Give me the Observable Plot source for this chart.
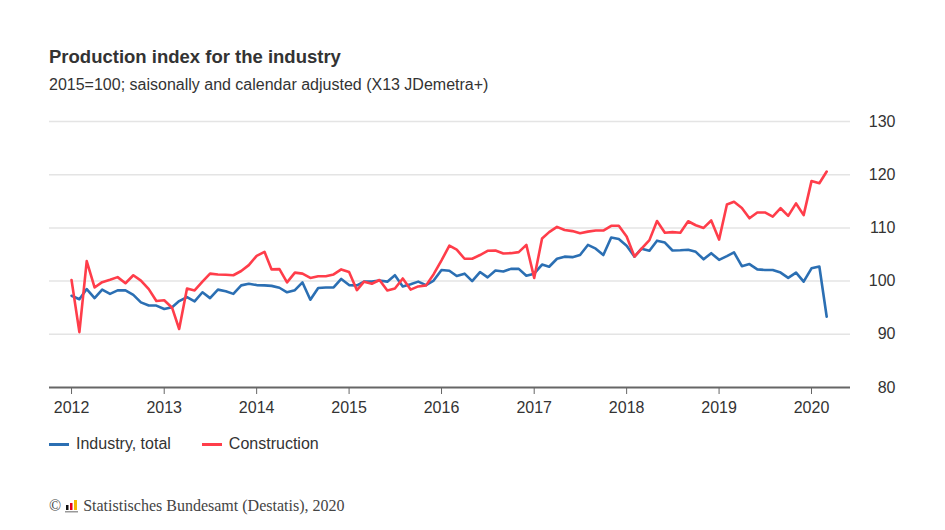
<!DOCTYPE html>
<html>
<head>
<meta charset="utf-8">
<script src="https://cdn.jsdelivr.net/npm/d3@7"></script>
<script src="https://cdn.jsdelivr.net/npm/@observablehq/plot@0.6"></script>
<style>
  html, body { margin: 0; padding: 0; background: #fff; }
  body { width: 945px; height: 530px; position: relative; overflow: hidden; font-family: "Liberation Sans", Arial, sans-serif; color: #333; }
  #title { position: absolute; left: 49px; top: 46px; font-size: 18.5px; font-weight: bold; color: #333; white-space: nowrap; }
  #subtitle { position: absolute; left: 49px; top: 76px; font-size: 16px; color: #333; white-space: nowrap; }
  #chart { position: absolute; left: 0; top: 100px; }
  #legend { position: absolute; left: 49px; top: 435px; font-size: 16px; color: #333; display: flex; white-space: nowrap; }
  .item { display: flex; align-items: center; margin-right: 31px; }
  .sw { width: 20px; height: 3px; margin-right: 7px; }
  #caption { position: absolute; left: 49px; top: 497px; font-family: "Liberation Serif", "Times New Roman", serif; font-size: 16px; color: #444; display: flex; align-items: center; white-space: nowrap; }
</style>
</head>
<body>
<div id="title">Production index for the industry</div>
<div id="subtitle">2015=100; saisonally and calendar adjusted (X13 JDemetra+)</div>
<div id="chart"></div>
<div id="legend"></div>
<div id="caption"><span>©</span><svg width="16" height="14" style="margin:0 3px 0 3px"><rect x="2" y="6" width="2.5" height="5" fill="#111"/><rect x="6" y="4" width="2.5" height="7" fill="#e3001b"/><rect x="10" y="1" width="3" height="10" fill="#f5b800"/><rect x="1" y="12" width="13" height="1.5" fill="#999"/></svg><span>Statistisches Bundesamt (Destatis), 2020</span></div>
<script>
const startYear = 2012;
const seriesNames = ["Industry, total", "Construction"];
const seriesColors = ["#2b6fb3", "#ff3d4a"];
const yTicks = [80, 90, 100, 110, 120, 130];
const xTickYears = [2012, 2013, 2014, 2015, 2016, 2017, 2018, 2019, 2020];

const industry = [
  97.25, 96.6, 98.5, 96.8, 98.4, 97.6, 98.25, 98.25, 97.4, 96.0, 95.4, 95.4,
  94.75, 95.1, 96.25, 97.0, 96.2, 97.9, 96.8, 98.4, 98.1, 97.6, 99.2, 99.5,
  99.25, 99.2, 99.1, 98.75, 97.9, 98.3, 99.75, 96.5, 98.7, 98.8, 98.8, 100.4,
  99.25, 99.2, 99.9, 99.9, 100.1, 99.9, 101.1, 99.0, 99.4, 99.9, 99.25, 100.1,
  102.1, 101.95, 100.95, 101.4, 100.0, 101.7, 100.7, 102.0, 101.8, 102.3, 102.3, 101.0,
  101.4, 103.1, 102.7, 104.2, 104.6, 104.5, 104.9, 106.8, 106.1, 104.9, 108.2, 107.9,
  106.65, 104.6, 106.1, 105.7, 107.6, 107.25, 105.75, 105.8, 105.9, 105.5, 104.1, 105.25,
  104.0, 104.7, 105.4, 102.8, 103.2, 102.2, 102.1, 102.1, 101.6, 100.6, 101.6, 99.9,
  102.4, 102.75, 93.3
];
const construction = [
  100.2, 90.4, 103.75, 98.8, 99.8, 100.25, 100.75, 99.6, 101.1, 100.1, 98.5, 96.25,
  96.4, 95.0, 91.0, 98.6, 98.25, 99.9, 101.4, 101.25, 101.2, 101.1, 101.9, 103.0,
  104.75, 105.5, 102.2, 102.25, 99.75, 101.6, 101.4, 100.6, 100.9, 100.9, 101.25, 102.2,
  101.7, 98.3, 99.9, 99.5, 100.2, 98.25, 98.6, 100.5, 98.4, 99.0, 99.2, 101.3,
  103.9, 106.65, 105.9, 104.2, 104.2, 104.9, 105.7, 105.75, 105.2, 105.25, 105.45, 106.8,
  100.6, 108.0, 109.2, 110.2, 109.6, 109.4, 109.0, 109.3, 109.5, 109.5, 110.4, 110.4,
  108.4, 104.6, 106.1, 107.7, 111.3, 109.1, 109.2, 109.1, 111.25, 110.5, 110.0, 111.4,
  107.8, 114.4, 114.9, 113.75, 111.8, 112.9, 112.9, 112.1, 113.7, 112.25, 114.6, 112.4,
  118.8, 118.4, 120.6
];

const rows = [];
[industry, construction].forEach((arr, s) => {
  arr.forEach((v, i) => rows.push({ date: new Date(Date.UTC(startYear, i, 1)), value: v, series: seriesNames[s] }));
});

const chart = Plot.plot({
  width: 945,
  height: 330,
  marginTop: 21,
  marginBottom: 43,
  marginLeft: 49,
  marginRight: 95,
  style: { fontFamily: "'Liberation Sans', Arial, sans-serif", fontSize: "16px", color: "#333", background: "transparent" },
  x: { type: "utc", domain: [new Date(Date.UTC(2011, 9, 6)), new Date(Date.UTC(2020, 5, 3))] },
  y: { domain: [80, 130] },
  color: { domain: seriesNames, range: seriesColors },
  marks: [
    Plot.gridY(yTicks.filter(d => d > 80), { stroke: "#e4e4e4", strokeOpacity: 1, strokeWidth: 1.5 }),
    Plot.axisY(yTicks, { anchor: "right", tickSize: 0, tickPadding: 45, textAnchor: "end", label: null, fontSize: 16 }),
    Plot.axisX(xTickYears.map(y => new Date(Date.UTC(y, 0, 1))), { tickSize: 7, tickPadding: 7, tickFormat: d3.utcFormat("%Y"), label: null, stroke: "#666", fontSize: 16 }),
    Plot.ruleY([80], { stroke: "#666", strokeWidth: 2 }),
    Plot.line(rows, { x: "date", y: "value", z: "series", stroke: "series", strokeWidth: 2.6, curve: "linear" })
  ]
});
document.getElementById("chart").appendChild(chart);

const legend = document.getElementById("legend");
seriesNames.forEach((n, i) => {
  const it = document.createElement("div");
  it.className = "item";
  it.innerHTML = `<span class="sw" style="background:${seriesColors[i]}"></span><span>${n}</span>`;
  legend.appendChild(it);
});
</script>
</body>
</html>
